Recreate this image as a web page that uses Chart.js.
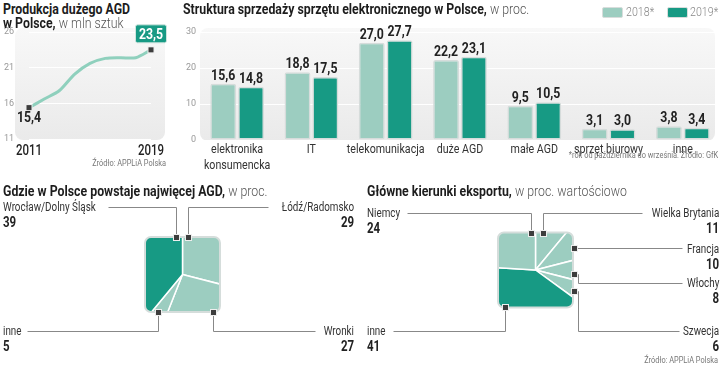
<!DOCTYPE html>
<html lang="pl">
<head>
<meta charset="utf-8">
<title>AGD w Polsce</title>
<script src="https://cdn.jsdelivr.net/npm/chart.js@4.4.0/dist/chart.umd.min.js"></script>
<style>
  body { margin:0; width:720px; height:365px; position:relative; background:#fff; overflow:hidden;
    font-family:Roboto,"Noto Sans",sans-serif; color:#222; }
  .abs { position:absolute; z-index:2; white-space:nowrap; transform:scaleX(.82); transform-origin:left center; }
  .r { transform-origin:right center; }
  .ttl { font-weight:bold; font-size:14px; line-height:14px; color:#1d1d1d; transform:scaleX(.88); }
  .ttl span { font-weight:300; color:#555; }
  .src { font-size:9px; line-height:10px; color:#777; }
  .lbl { font-size:12px; line-height:14px; color:#333; }
  .num { font-size:14px; line-height:16px; font-weight:bold; color:#222; }
  .sw { position:absolute; width:19px; height:9px; border-radius:2px; border:1px solid #d8dddc; }
  canvas { position:absolute; z-index:1; }
</style>
</head>
<body>
<div class="abs ttl" style="left:3px;top:2px">Produkcja dużego AGD</div>
<div class="abs ttl" style="left:3px;top:16px">w Polsce, <span>w mln sztuk</span></div>
<div class="abs src r" style="right:554px;top:158px">Źródło: APPLiA Polska</div>

<div class="abs ttl" style="left:183px;top:2px">Struktura sprzedaży sprzętu elektronicznego w Polsce, <span>w proc.</span></div>
<div class="sw" style="left:602px;top:7px;background:#9ccdc0"></div>
<div class="abs lbl" style="left:626px;top:5px;color:#888;font-weight:300;font-size:13px">2018*</div>
<div class="sw" style="left:667px;top:7px;background:#179a84"></div>
<div class="abs lbl" style="left:690px;top:5px;color:#888;font-weight:300;font-size:13px">2019*</div>
<div class="abs src r" style="right:2px;top:150px">*rok od października do września. Źródło: GfK</div>

<div class="abs ttl" style="left:3px;top:184px">Gdzie w Polsce powstaje najwięcej AGD, <span>w proc.</span></div>
<div class="abs lbl" style="left:3px;top:200px">Wrocław/Dolny Śląsk</div>
<div class="abs num" style="left:3px;top:214px">39</div>
<div class="abs lbl r" style="right:366px;top:200px">Łódź/Radomsko</div>
<div class="abs num r" style="right:366px;top:214px">29</div>
<div class="abs lbl" style="left:3px;top:324px">inne</div>
<div class="abs num" style="left:3px;top:338px">5</div>
<div class="abs lbl r" style="right:366px;top:324px">Wronki</div>
<div class="abs num r" style="right:366px;top:338px">27</div>

<div class="abs ttl" style="left:367px;top:184px">Główne kierunki eksportu, <span>w proc. wartościowo</span></div>
<div class="abs lbl" style="left:367px;top:206px">Niemcy</div>
<div class="abs num" style="left:367px;top:220px">24</div>
<div class="abs lbl r" style="right:1px;top:206px">Wielka Brytania</div>
<div class="abs num r" style="right:1px;top:220px">11</div>
<div class="abs lbl r" style="right:1px;top:242px">Francja</div>
<div class="abs num r" style="right:1px;top:256px">10</div>
<div class="abs lbl r" style="right:1px;top:276px">Włochy</div>
<div class="abs num r" style="right:1px;top:290px">8</div>
<div class="abs lbl r" style="right:1px;top:324px">Szwecja</div>
<div class="abs num r" style="right:1px;top:338px">6</div>
<div class="abs lbl" style="left:367px;top:324px">inne</div>
<div class="abs num" style="left:367px;top:338px">41</div>
<div class="abs src r" style="right:2px;top:355px">Źródło: APPLiA Polska</div>

<canvas id="prodChart" width="175" height="140" style="left:0;top:20px"></canvas>
<canvas id="salesChart" width="540" height="155" style="left:180px;top:20px"></canvas>
<canvas id="regionChart" width="360" height="165" style="left:0;top:195px"></canvas>
<canvas id="exportChart" width="360" height="165" style="left:360px;top:195px"></canvas>

<script>
// dane
const prodYears = ['2011', '2012', '2013', '2014', '2015', '2016', '2017', '2018', '2019'];
const prodValues = [15.4, 16.6, 17.8, 20.1, 21.6, 22.3, 22.4, 22.4, 23.5];
const prodTicks = [11, 16, 21, 26];

const salesCategories = [['elektronika', 'konsumencka'], 'IT', 'telekomunikacja', 'duże AGD', 'małe AGD', 'sprzęt biurowy', 'inne'];
const sales2018 = [15.6, 18.8, 27.0, 22.2, 9.5, 3.1, 3.8];
const sales2019 = [14.8, 17.5, 27.7, 23.1, 10.5, 3.0, 3.4];
const salesTicks = [0, 10, 20, 30];

const regionLabels = ['Łódź/Radomsko', 'Wronki', 'inne', 'Wrocław/Dolny Śląsk'];
const regionValues = [29, 27, 5, 39];

const exportLabels = ['Wielka Brytania', 'Francja', 'Włochy', 'Szwecja', 'inne', 'Niemcy'];
const exportValues = [11, 10, 8, 6, 41, 24];

const LIGHT = '#9ccdc0';
const DARK = '#179a84';
const FONT = 'Roboto,"Noto Sans",sans-serif';
const SQUEEZE = 0.82;
const fmt = v => v.toFixed(1).replace('.', ',');

Chart.defaults.font.family = FONT;
Chart.defaults.animation = false;
Chart.defaults.plugins.legend.display = false;
Chart.defaults.plugins.tooltip.enabled = false;

// wąski tekst na canvasie
function narrowText(ctx, txt, x, y) {
  ctx.save();
  ctx.translate(x, y);
  ctx.scale(SQUEEZE, 1);
  ctx.fillText(txt, 0, 0);
  ctx.restore();
}

// szare tło pod wykresem
function bgPlugin(padL, padR, padT, padB) {
  return {
    id: 'bg',
    beforeDraw(chart) {
      const { ctx, chartArea: a } = chart;
      const x = a.left - padL, y = a.top - padT, w = a.right + padR - x, h = a.bottom + padB - y;
      const g = ctx.createLinearGradient(0, y, 0, y + h);
      g.addColorStop(0, '#f8f8f8');
      g.addColorStop(1, '#eaeaea');
      ctx.save();
      ctx.fillStyle = g;
      ctx.beginPath();
      ctx.roundRect(x, y, w, h, 8);
      ctx.fill();
      ctx.restore();
    }
  };
}

// podpisy osi X rysowane wąską czcionką
function xLabelsPlugin(font, color, firstOffset, lineStep, onlyEnds) {
  return {
    id: 'xLabels',
    afterDraw(chart) {
      const { ctx, chartArea: a } = chart;
      const sx = chart.scales.x;
      const labels = chart.data.labels;
      ctx.save();
      ctx.font = font;
      ctx.fillStyle = color;
      ctx.textAlign = 'center';
      ctx.textBaseline = 'middle';
      labels.forEach((lab, i) => {
        if (onlyEnds && i !== 0 && i !== labels.length - 1) return;
        const lines = Array.isArray(lab) ? lab : [lab];
        lines.forEach((t, k) => narrowText(ctx, t, sx.getPixelForTick(i), a.bottom + firstOffset + k * lineStep));
      });
      ctx.restore();
    }
  };
}

function marker(ctx, x, y) {
  ctx.fillStyle = '#eee';
  ctx.fillRect(x - 3.5, y - 3.5, 7, 7);
  ctx.fillStyle = '#3d3d3d';
  ctx.fillRect(x - 2.5, y - 2.5, 5, 5);
}

// produkcja
new Chart(document.getElementById('prodChart'), {
  type: 'line',
  data: {
    labels: prodYears,
    datasets: [{
      data: prodValues,
      borderColor: '#8fd0bd',
      borderWidth: 3,
      tension: 0.3,
      pointRadius: 0
    }]
  },
  options: {
    responsive: false,
    layout: { autoPadding: false, padding: { top: 12, right: 24, left: 4 } },
    scales: {
      x: {
        grid: { display: false },
        border: { display: false },
        afterFit: s => { s.height = 21; },
        ticks: { display: false }
      },
      y: {
        min: 11, max: 26,
        afterFit: s => { s.width = 25; },
        afterBuildTicks: s => { s.ticks = prodTicks.map(v => ({ value: v })); },
        grid: { color: '#ffffff', lineWidth: 1, drawTicks: false },
        border: { display: false },
        ticks: { padding: 2, crossAlign: 'far', color: '#999', font: { size: 9 } }
      }
    }
  },
  plugins: [bgPlugin(14, 14, 4, 1), xLabelsPlugin('500 14px ' + FONT, '#222', 12, 0, true), {
    id: 'prodLabels',
    afterDatasetsDraw(chart) {
      const { ctx } = chart;
      const pts = chart.getDatasetMeta(0).data;
      const first = pts[0], last = pts[pts.length - 1];
      ctx.save();
      marker(ctx, first.x, first.y);
      marker(ctx, last.x, last.y);
      ctx.font = 'bold 15px ' + FONT;
      ctx.textAlign = 'center';
      ctx.textBaseline = 'middle';
      ctx.fillStyle = '#222';
      narrowText(ctx, fmt(prodValues[0]), first.x, first.y + 11);
      const txt = fmt(prodValues[prodValues.length - 1]);
      const w = 31, h = 18, bx = last.x - w / 2, by = last.y - 25;
      ctx.fillStyle = DARK;
      ctx.strokeStyle = '#cfe5df';
      ctx.lineWidth = 1;
      ctx.beginPath();
      ctx.roundRect(bx, by, w, h, 2);
      ctx.fill();
      ctx.stroke();
      ctx.fillStyle = '#fff';
      narrowText(ctx, txt, last.x, by + h / 2 + 1);
      ctx.restore();
    }
  }]
});

// struktura sprzedaży
new Chart(document.getElementById('salesChart'), {
  type: 'bar',
  data: {
    labels: salesCategories,
    datasets: [
      { label: '2018*', data: sales2018, backgroundColor: LIGHT },
      { label: '2019*', data: sales2019, backgroundColor: DARK }
    ]
  },
  options: {
    responsive: false,
    layout: { autoPadding: false, padding: { top: 12 } },
    datasets: {
      bar: {
        borderColor: '#d6dcdb', borderWidth: 1.5, borderRadius: 2, borderSkipped: false,
        categoryPercentage: 0.75, barPercentage: 0.93
      }
    },
    scales: {
      x: {
        grid: { display: false },
        border: { display: false },
        afterFit: s => { s.height = 35; },
        ticks: { display: false }
      },
      y: {
        min: 0, max: 30,
        afterFit: s => { s.width = 20; },
        afterBuildTicks: s => { s.ticks = salesTicks.map(v => ({ value: v })); },
        grid: { color: '#ffffff', drawTicks: false },
        border: { display: false },
        ticks: { padding: 4, color: '#999', font: { size: 9 } }
      }
    }
  },
  plugins: [bgPlugin(0, -5, 4, 1), xLabelsPlugin('13px ' + FONT, '#333', 10, 16, false), {
    id: 'barValues',
    afterDatasetsDraw(chart) {
      const { ctx } = chart;
      ctx.save();
      ctx.font = 'bold 15px ' + FONT;
      ctx.textAlign = 'center';
      ctx.textBaseline = 'alphabetic';
      ctx.fillStyle = '#222';
      chart.data.datasets.forEach((ds, di) => {
        chart.getDatasetMeta(di).data.forEach((bar, i) => {
          narrowText(ctx, fmt(ds.data[i]), bar.x, bar.y - 4);
        });
      });
      ctx.restore();
    }
  }]
});

// kwadratowe "koła"
function squarePie(canvasId, labels, values, colors, padding, leaders) {
  const HALF = 37.5;
  new Chart(document.getElementById(canvasId), {
    type: 'pie',
    data: {
      labels: labels,
      datasets: [{ data: values, backgroundColor: colors, borderColor: '#fff', borderWidth: 1.5 }]
    },
    options: { responsive: false, layout: { padding: padding } },
    plugins: [{
      id: 'square',
      beforeDatasetsDraw(chart) {
        const { ctx, chartArea: a } = chart;
        const cx = (a.left + a.right) / 2, cy = (a.top + a.bottom) / 2;
        ctx.save();
        ctx.beginPath();
        ctx.roundRect(cx - HALF, cy - HALF, HALF * 2, HALF * 2, 6);
        ctx.clip();
      },
      afterDatasetsDraw(chart) {
        const { ctx, chartArea: a } = chart;
        ctx.restore();
        const cx = (a.left + a.right) / 2, cy = (a.top + a.bottom) / 2;
        ctx.save();
        ctx.strokeStyle = '#d5dddb';
        ctx.lineWidth = 2;
        ctx.beginPath();
        ctx.roundRect(cx - HALF, cy - HALF, HALF * 2, HALF * 2, 6);
        ctx.stroke();
        ctx.strokeStyle = '#888';
        ctx.lineWidth = 1;
        leaders.forEach(path => {
          ctx.beginPath();
          path.forEach((p, i) => {
            const x = Math.round(cx + p[0]) + 0.5, y = Math.round(cy + p[1]) + 0.5;
            if (i === 0) ctx.moveTo(x, y); else ctx.lineTo(x, y);
          });
          ctx.stroke();
        });
        leaders.forEach(path => marker(ctx, Math.round(cx + path[0][0]) + 0.5, Math.round(cy + path[0][1]) + 0.5));
        ctx.restore();
      }
    }]
  });
}

squarePie('regionChart', regionLabels, regionValues, [LIGHT, LIGHT, LIGHT, DARK],
  { left: 128.5, right: 123.5, top: 25.5, bottom: 31.5 },
  [
    [[-6.5, -37.5], [-6.5, -67.5], [-74.5, -67.5]],
    [[5.5, -37.5], [5.5, -67.5], [85.5, -67.5]],
    [[-24.5, 37.5], [-24.5, 56.5], [-155.5, 56.5]],
    [[30.5, 37.5], [30.5, 56.5], [132.5, 56.5]]
  ]);

squarePie('exportChart', exportLabels, exportValues, [LIGHT, LIGHT, LIGHT, LIGHT, DARK, LIGHT],
  { left: 121.5, right: 130.5, top: 21, bottom: 36 },
  [
    [[-4.5, -37], [-4.5, -57], [-128.5, -57]],
    [[7.5, -37], [7.5, -57], [106.5, -57]],
    [[38.5, -22], [146.5, -22]],
    [[38.5, 4], [42.5, 4], [42.5, 13], [146.5, 13]],
    [[38.5, 21], [42.5, 21], [42.5, 61], [143.5, 61]],
    [[-30.5, 37], [-30.5, 61], [-142.5, 61]]
  ]);
</script>
</body>
</html>
